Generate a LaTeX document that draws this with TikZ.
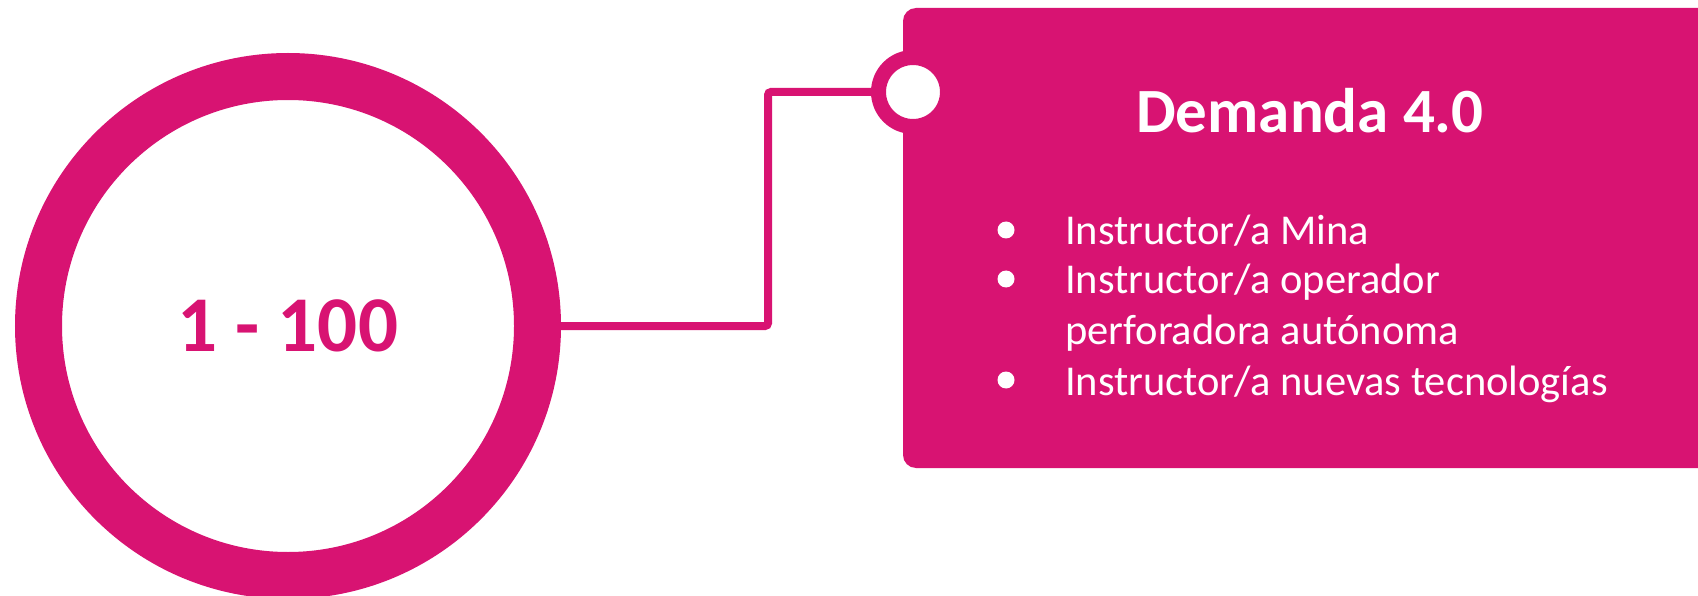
\documentclass[tikz,border=0pt]{standalone}
\usepackage{fontspec}
\setmainfont{Carlito}
\usetikzlibrary{positioning}
\definecolor{rosa}{HTML}{D81372}

\begin{document}
\begin{tikzpicture}[x=1pt, y=-1pt,
        ring/.style={circle, draw=rosa, line width=47pt, fill=white, minimum size=499pt, inner sep=0pt, text=rosa, font=\fontsize{79}{79}\selectfont\bfseries},
        hub/.style={circle, draw=rosa, line width=15pt, fill=white, minimum size=69pt, inner sep=0pt},
        card/.style={rectangle, rounded corners=13pt, fill=rosa, minimum width=827pt, minimum height=460pt, inner sep=0pt},
        link/.style={draw=rosa, line width=8pt, rounded corners=3pt},
        head/.style={text=white, font=\fontsize{63}{63}\selectfont\bfseries, inner sep=0pt, anchor=base},
        item/.style={text=white, font=\fontsize{42.5}{50}\selectfont, inner sep=0pt, anchor=base west},
        dot/.style={circle, fill=white, minimum size=17pt, inner sep=0pt}
    ]
        \path[use as bounding box, clip] (0,0) rectangle (1698,596);

        % Range ring (left)
        \node[ring] (rng) at (288, 326) {1 - 100};

        % Card with the demand list (right)
        \node[card] (card) at (1316.5, 238) {};
        \node[hub] (hub) at (913, 92) {};
        \node[head] (head) at (1310, 133) {Demanda 4.0};

        % Items
        \foreach \y/\txt [count=\i] in {245/{Instructor/a Mina}, 294/{Instructor/a operador}, 395/{Instructor/a nuevas tecnologías}} {
            \node[item] (i\i) at (1065, \y) {\txt};
            \node[dot] (b\i) at (1006, \y-15) {};
        }
        \node[item] (i2b) at (1065, 344) {perforadora autónoma};

        % Connector from ring to card
        \coordinate (elbow) at (768, 0);
        \draw[link] (rng.east) -| (elbow |- hub.west) -- (hub.west);

    \end{tikzpicture}
\end{document}
